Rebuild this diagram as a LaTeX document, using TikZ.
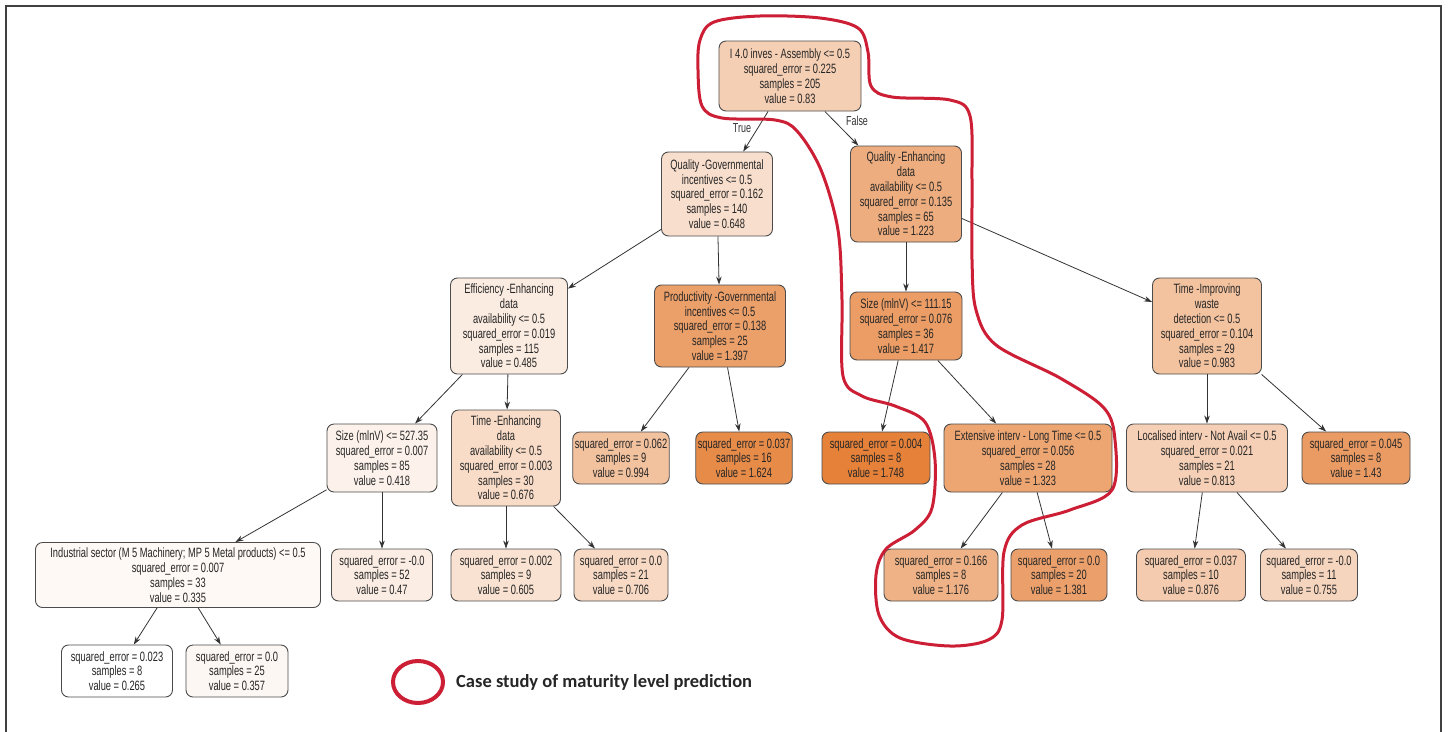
\documentclass[tikz,border=0pt]{standalone}
\usepackage{fontspec}
\setmainfont{Liberation Sans}[FakeStretch=0.69]
\newfontfamily\legendfont{Carlito}
\usetikzlibrary{arrows.meta}
\definecolor{tc}{HTML}{E58139}
\definecolor{casered}{HTML}{CC1F36}
\begin{document}
\begin{tikzpicture}[x=1pt,y=-1pt,
  box/.style={draw=black!70, rounded corners=7pt, line width=0.9pt, align=center,
    font=\fontsize{13.5}{14.8}\selectfont, inner sep=2pt, text=black!85},
  edge/.style={draw=black!80, line width=0.8pt, -{Stealth[length=8pt,width=5.5pt]}},
  lab/.style={font=\fontsize{13}{14}\selectfont, text=black!80}]
\useasboundingbox (0,0) rectangle (1448,731);
\fill[white] (0,0) rectangle (1448,731);
\draw[line width=1.6pt, black!75] (6,740) -- (6,6) -- (1441,6) -- (1441,740);

\node[box, fill=tc!38!white, minimum width=142, minimum height=70] (n0) at (790,76)
  {I 4.0 inves - Assembly <= 0.5\\squared\_error = 0.225\\samples = 205\\value = 0.83};
\node[box, fill=tc!26!white, minimum width=111, minimum height=84] (n1) at (717,194)
  {Quality  -Governmental\\incentives <= 0.5\\squared\_error = 0.162\\samples = 140\\value = 0.648};
\node[box, fill=tc!65!white, minimum width=111, minimum height=96] (n2) at (906,194)
  {Quality  -Enhancing\\data\\availability <= 0.5\\squared\_error = 0.135\\samples = 65\\value = 1.223};
\node[box, fill=tc!15!white, minimum width=117, minimum height=96] (n3) at (509,326)
  {Efficiency -Enhancing\\data\\availability <= 0.5\\squared\_error = 0.019\\samples = 115\\value = 0.485};
\node[box, fill=tc!76!white, minimum width=131, minimum height=82] (n4) at (720,326)
  {Productivity -Governmental\\incentives <= 0.5\\squared\_error = 0.138\\samples = 25\\value = 1.397};
\node[box, fill=tc!78!white, minimum width=112, minimum height=68] (n5) at (906,326)
  {Size (mlnV) <= 111.15\\squared\_error = 0.076\\samples = 36\\value = 1.417};
\node[box, fill=tc!48!white, minimum width=109, minimum height=96] (n6) at (1207,326)
  {Time -Improving\\waste\\detection <= 0.5\\squared\_error = 0.104\\samples = 29\\value = 0.983};
\node[box, fill=tc!10!white, minimum width=110, minimum height=68] (n7) at (382,458)
  {Size (mlnV) <= 527.35\\squared\_error = 0.007\\samples = 85\\value = 0.418};
\node[box, fill=tc!28!white, minimum width=109, minimum height=96] (n8) at (506,458)
  {Time -Enhancing\\data\\availability <= 0.5\\squared\_error = 0.003\\samples = 30\\value = 0.676};
\node[box, fill=tc!49!white, minimum width=96, minimum height=52] (n9) at (621,458)
  {squared\_error = 0.062\\samples = 9\\value = 0.994};
\node[box, fill=tc!92!white, minimum width=96, minimum height=52] (n10) at (744,458)
  {squared\_error = 0.037\\samples = 16\\value = 1.624};
\node[box, fill=tc, minimum width=108, minimum height=52] (n11) at (876,458)
  {squared\_error = 0.004\\samples = 8\\value = 1.748};
\node[box, fill=tc!71!white, minimum width=168, minimum height=68] (n12) at (1028,458)
  {Extensive interv - Long Time <= 0.5\\squared\_error = 0.056\\samples = 28\\value = 1.323};
\node[box, fill=tc!37!white, minimum width=161, minimum height=68] (n13) at (1207,458)
  {Localised interv - Not Avail  <= 0.5\\squared\_error = 0.021\\samples = 21\\value = 0.813};
\node[box, fill=tc!79!white, minimum width=108, minimum height=52] (n14) at (1356,458)
  {squared\_error = 0.045\\samples = 8\\value = 1.43};
\node[box, fill=tc!5!white, minimum width=285, minimum height=65] (n15) at (178,575)
  {Industrial sector (M 5 Machinery; MP 5 Metal products) <= 0.5\\squared\_error = 0.007\\samples = 33\\value = 0.335};
\node[box, fill=tc!14!white, minimum width=101, minimum height=52] (n16) at (382,575)
  {squared\_error = -0.0\\samples = 52\\value = 0.47};
\node[box, fill=tc!23!white, minimum width=110, minimum height=52] (n17) at (506,575)
  {squared\_error = 0.002\\samples = 9\\value = 0.605};
\node[box, fill=tc!30!white, minimum width=94, minimum height=52] (n18) at (621,575)
  {squared\_error = 0.0\\samples = 21\\value = 0.706};
\node[box, fill=tc!61!white, minimum width=114, minimum height=52] (n19) at (941,575)
  {squared\_error = 0.166\\samples = 8\\value = 1.176};
\node[box, fill=tc!75!white, minimum width=96, minimum height=52] (n20) at (1059,575)
  {squared\_error = 0.0\\samples = 20\\value = 1.381};
\node[box, fill=tc!41!white, minimum width=109, minimum height=52] (n21) at (1191,575)
  {squared\_error = 0.037\\samples = 10\\value = 0.876};
\node[box, fill=tc!33!white, minimum width=97, minimum height=52] (n22) at (1309,575)
  {squared\_error = -0.0\\samples = 11\\value = 0.755};
\node[box, fill=white, minimum width=111, minimum height=52] (n23) at (117,671)
  {squared\_error = 0.023\\samples = 8\\value = 0.265};
\node[box, fill=tc!6!white, minimum width=102, minimum height=52] (n24) at (237,671)
  {squared\_error = 0.0\\samples = 25\\value = 0.357};

\draw[edge] (n0) -- (n1);
\draw[edge] (n0) -- (n2);
\draw[edge] (n1) -- (n3);
\draw[edge] (n1) -- (n4);
\draw[edge] (n2) -- (n5);
\draw[edge] (n2) -- (n6);
\draw[edge] (n3) -- (n7);
\draw[edge] (n3) -- (n8);
\draw[edge] (n4) -- (n9);
\draw[edge] (n4) -- (n10);
\draw[edge] (n5) -- (n11);
\draw[edge] (n5) -- (n12);
\draw[edge] (n6) -- (n13);
\draw[edge] (n6) -- (n14);
\draw[edge] (n7) -- (n15);
\draw[edge] (n7) -- (n16);
\draw[edge] (n8) -- (n17);
\draw[edge] (n8) -- (n18);
\draw[edge] (n12) -- (n19);
\draw[edge] (n12) -- (n20);
\draw[edge] (n13) -- (n21);
\draw[edge] (n13) -- (n22);
\draw[edge] (n15) -- (n23);
\draw[edge] (n15) -- (n24);

\node[lab] (ltrue) at (742,128) {True};
\node[lab] (lfalse) at (857,121) {False};

\draw[casered, line width=3pt, line join=round] plot[smooth cycle, tension=0.55] coordinates {
  (700,40) (714,22) (760,16) (820,18) (858,28) (868,52) (871,86) (892,97)
  (950,100) (970,116) (972,180) (972,260) (976,310) (996,345) (1060,378)
  (1104,408) (1115,440) (1112,490) (1070,510) (1022,525) (1004,552) (1002,620)
  (988,640) (950,646) (900,638) (879,615) (876,575) (886,549) (915,530)
  (932,508) (935,460) (925,422) (895,406) (862,396) (843,376) (842,300)
  (838,230) (821,170) (797,131) (775,120) (722,118) (702,106) (698,70)};

\draw[casered, line width=4pt] (418,682) ellipse[x radius=25, y radius=21];
\node[anchor=west, font=\legendfont\bfseries\fontsize{18.5}{22}\selectfont, text=black!85, inner sep=0pt] (legend) at (456,682)
  {Case study of maturity level prediction};
\end{tikzpicture}
\end{document}
